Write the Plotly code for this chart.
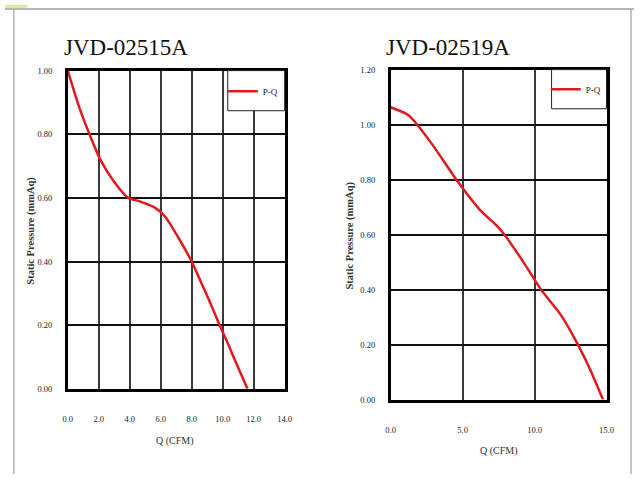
import plotly.graph_objects as go

W, H = 641, 479

# ---- data ----
titles = ["JVD-02515A", "JVD-02519A"]
q_02515 = [0, 0.7, 1.4, 2.1, 3.0, 3.9, 4.6, 5.6, 6.3, 7.2, 8.0, 8.6, 9.2, 9.8, 10.4, 10.7, 11.6]
p_02515 = [1.00, 0.89, 0.80, 0.72, 0.65, 0.60, 0.59, 0.57, 0.54, 0.47, 0.40, 0.335, 0.27, 0.20, 0.135, 0.10, 0.00]
q_02519 = [0, 1.2, 1.75, 3.0, 4.7, 6.2, 7.3, 7.9, 9.1, 10.45, 11.8, 12.95, 13.9, 14.75]
p_02519 = [1.063, 1.036, 1.006, 0.92, 0.79, 0.69, 0.636, 0.60, 0.51, 0.40, 0.31, 0.206, 0.105, 0.0]
x_ticks_1 = [0, 2, 4, 6, 8, 10, 12, 14]
x_ticks_2 = [0, 5, 10, 15]
y_ticks_1 = [0, 0.2, 0.4, 0.6, 0.8, 1.0]
y_ticks_2 = [0, 0.2, 0.4, 0.6, 0.8, 1.0, 1.2]
series_name = "P-Q"
x_label = "Q (CFM)"
y_label = "Static Pressure (mmAq)"


def px(x):
    return x / W


def py(y):
    return 1 - y / H


SERIF = "Liberation Serif, Times New Roman, serif"
RED = "#e3191e"

fig = go.Figure()
fig.add_trace(go.Scatter(x=q_02515, y=p_02515, mode="lines", name=series_name,
                         line=dict(color=RED, width=2.5, shape="spline", smoothing=0.6),
                         xaxis="x", yaxis="y", legend="legend"))
fig.add_trace(go.Scatter(x=q_02519, y=p_02519, mode="lines", name=series_name,
                         line=dict(color=RED, width=2.5, shape="spline", smoothing=0.6),
                         xaxis="x2", yaxis="y2", legend="legend2"))

tickfont = dict(family=SERIF, size=8.5, color="#222")


def xaxis(domain, rng, ticks, anchor):
    return dict(domain=domain, range=rng, tickvals=ticks, tickformat=".1f",
                showgrid=True, gridcolor="#3a3a3a", gridwidth=2, zeroline=False,
                showline=True, linecolor="black", linewidth=3, mirror=True,
                ticks="", ticklabelstandoff=20, tickfont=tickfont, anchor=anchor,
                fixedrange=True)


def yaxis(domain, rng, ticks, anchor):
    return dict(domain=domain, range=rng, tickvals=ticks, tickformat=".2f",
                showgrid=True, gridcolor="#111", gridwidth=2, zeroline=False,
                showline=True, linecolor="black", linewidth=2.5, mirror=True,
                ticks="", ticklabelstandoff=11, tickfont=tickfont, anchor=anchor,
                fixedrange=True)


fig.update_layout(
    width=W, height=H,
    margin=dict(l=0, r=0, t=0, b=0),
    paper_bgcolor="white", plot_bgcolor="white",
    xaxis=xaxis([px(64), px(285)], [0, 14], x_ticks_1, "y"),
    yaxis=yaxis([py(392), py(67)], [0, 1.0], y_ticks_1, "x"),
    xaxis2=xaxis([px(393), px(613)], [0, 15], x_ticks_2, "y2"),
    yaxis2=yaxis([py(403), py(66)], [0, 1.2], y_ticks_2, "x2"),
    legend=dict(x=px(222), y=py(88), xanchor="left", yanchor="middle",
                bgcolor="rgba(0,0,0,0)", borderwidth=0,
                font=dict(family=SERIF, size=9, color="#222")),
    legend2=dict(x=px(551), y=py(86), xanchor="left", yanchor="middle",
                 bgcolor="rgba(0,0,0,0)", borderwidth=0,
                 font=dict(family=SERIF, size=9, color="#222")),
    showlegend=True,
)

shapes = [
    # outer frame
    dict(type="rect", xref="paper", yref="paper", x0=0, x1=px(23), y0=py(3), y1=1,
         fillcolor="#d9eb9c", line=dict(width=0), layer="below"),
    dict(type="line", xref="paper", yref="paper", x0=0, x1=1, y0=py(4), y1=py(4),
         line=dict(color="#b4b4b4", width=2)),
    dict(type="line", xref="paper", yref="paper", x0=px(9), x1=px(9), y0=0, y1=py(4),
         line=dict(color="#b4b4b4", width=1.5)),
    dict(type="line", xref="paper", yref="paper", x0=px(638), x1=px(638), y0=0, y1=py(4),
         line=dict(color="#b4b4b4", width=1.5)),
    # legend boxes
    dict(type="rect", xref="paper", yref="paper", x0=px(227), x1=px(285), y0=py(108), y1=py(67),
         fillcolor="white", line=dict(color="#222", width=1), layer="above"),
    dict(type="rect", xref="paper", yref="paper", x0=px(557), x1=px(613), y0=py(106), y1=py(66),
         fillcolor="white", line=dict(color="#222", width=1), layer="above"),
]
fig.update_layout(shapes=shapes)

ann = []
for t, cx in zip(titles, [123, 451]):
    ann.append(dict(text=t, x=px(cx), y=py(43), xref="paper", yref="paper",
                    showarrow=False, xanchor="center", yanchor="middle",
                    font=dict(family=SERIF, size=23, color="#111")))
for cx, cy in [(173, 445), (503, 456)]:
    ann.append(dict(text=x_label, x=px(cx), y=py(cy), xref="paper", yref="paper",
                    showarrow=False, xanchor="center", yanchor="middle",
                    font=dict(family=SERIF, size=10, color="#333")))
for cx, cy in [(27, 230), (352, 235)]:
    ann.append(dict(text="<b>" + y_label + "</b>", x=px(cx), y=py(cy), xref="paper", yref="paper",
                    showarrow=False, xanchor="center", yanchor="middle", textangle=-90,
                    font=dict(family=SERIF, size=10.5, color="#333")))
fig.update_layout(annotations=ann)

fig.write_html("out.html", config={"displayModeBar": False},
               post_script="document.body.style.margin='0px';document.body.style.overflow='hidden';")
